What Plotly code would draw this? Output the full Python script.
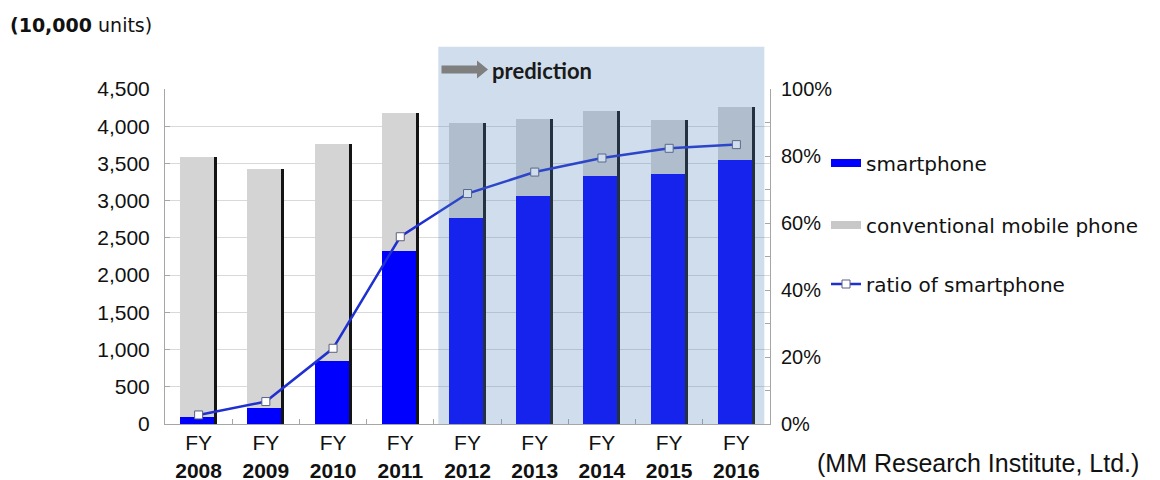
import plotly.graph_objects as go

# Fiscal years and shipment data (10,000 units)
years = ["2008", "2009", "2010", "2011", "2012", "2013", "2014", "2015", "2016"]
smartphone = [90, 220, 850, 2330, 2770, 3060, 3330, 3360, 3550]
conventional = [3490, 3210, 2910, 1850, 1280, 1040, 870, 720, 710]
ratio_pct = [2.7, 6.7, 22.6, 55.9, 68.8, 75.2, 79.4, 82.3, 83.4]
tick_text = [f"FY<br><b>{y}</b>" for y in years]

totals = [s + c for s, c in zip(smartphone, conventional)]
ratio = [r / 100 for r in ratio_pct]

# plot-area geometry in pixels (used for decorations placed in paper space)
W, H = 1160, 480
L, R, T, B = 165, 770, 89, 424


def px(x):
    return (x - L) / (R - L)


def py(y):
    return (B - y) / (B - T)


BLUE = "#0000ff"
GRAY = "#d4d4d4"
LINE = "#1f2fd0"
TXT = "#111111"

fig = go.Figure()

# smartphone (bottom part of each column)
fig.add_trace(go.Bar(
    x=years, y=smartphone, base=0, width=0.506, offset=-0.276,
    marker=dict(color=BLUE, line=dict(width=0)), showlegend=False,
))
# conventional phones stacked on top
fig.add_trace(go.Bar(
    x=years, y=conventional, base=smartphone, width=0.506, offset=-0.276,
    marker=dict(color=GRAY, line=dict(width=0)), showlegend=False,
))
# dark right-hand edge of each column
fig.add_trace(go.Bar(
    x=years, y=totals, base=0, width=0.045, offset=0.23,
    marker=dict(color="#141414", line=dict(width=0)), showlegend=False,
))
# smartphone ratio on the secondary axis
fig.add_trace(go.Scatter(
    x=years, y=ratio, yaxis="y2", mode="lines+markers",
    name="ratio of smartphone",
    line=dict(color=LINE, width=2.5),
    marker=dict(symbol="square", size=8, color="white",
                line=dict(color="#5a6080", width=1)),
    legend="legend3",
))
# legend swatches for the columns
fig.add_trace(go.Scatter(
    x=[None], y=[None], mode="lines", name="smartphone",
    line=dict(color=BLUE, width=8), legend="legend",
))
fig.add_trace(go.Scatter(
    x=[None], y=[None], mode="lines", name="conventional mobile phone",
    line=dict(color="#c8c8c8", width=8), legend="legend2",
))

legend_common = dict(
    x=px(826), xanchor="left", yanchor="middle",
    bgcolor="rgba(0,0,0,0)", borderwidth=0,
    font=dict(family="DejaVu Sans", size=20, color=TXT),
    itemwidth=30,
)

# prediction period band, drawn over the columns
shapes = [
    dict(type="rect", xref="x", yref="paper",
         x0=3.566, x1=8.415, y0=0, y1=py(46.7),
         fillcolor="rgba(80,130,185,0.27)", line=dict(width=0),
         layer="above"),
    # arrow in front of the "prediction" label
    dict(type="path", xref="paper", yref="paper",
         path=(f"M{px(441.5)},{py(65.5)} L{px(477)},{py(65.5)} "
               f"L{px(477)},{py(60.5)} L{px(488)},{py(69.5)} "
               f"L{px(477)},{py(78.5)} L{px(477)},{py(73.5)} "
               f"L{px(441.5)},{py(73.5)} Z"),
         fillcolor="#7f7f7f", line=dict(width=0), layer="above"),
]

annotations = [
    dict(text="prediction", xref="paper", yref="paper",
         x=px(490), y=py(71), xanchor="left", yanchor="middle",
         showarrow=False,
         font=dict(family="Lato", size=22, color="#1a1a1a", weight="bold")),
    dict(text="<b>(10,000</b> units)", xref="paper", yref="paper",
         x=px(8), y=py(25), xanchor="left", yanchor="middle",
         showarrow=False,
         font=dict(family="DejaVu Sans", size=19, color=TXT)),
    dict(text="(MM Research Institute, Ltd.)", xref="paper", yref="paper",
         x=px(815), y=py(463), xanchor="left", yanchor="middle",
         showarrow=False,
         font=dict(family="Liberation Sans, Arial", size=25, color=TXT)),
]

fig.update_layout(
    width=W, height=H,
    margin=dict(l=L, r=W - R, t=T, b=H - B, pad=0, autoexpand=False),
    paper_bgcolor="white", plot_bgcolor="white",
    barmode="overlay", bargap=0,
    shapes=shapes, annotations=annotations,
    legend=dict(legend_common, y=py(163)),
    legend2=dict(legend_common, y=py(225)),
    legend3=dict(legend_common, y=py(284)),
    xaxis=dict(
        type="category", range=[-0.5, 8.5], automargin=False,
        tickvals=years, ticktext=tick_text,
        tickson="boundaries", ticks="inside", ticklen=5,
        tickcolor="#a6a6a6", showline=True, linecolor="#a6a6a6",
        linewidth=1, showgrid=False,
        tickfont=dict(family="Liberation Sans, Arial", size=21, color=TXT),
    ),
    yaxis=dict(
        range=[0, 4500], dtick=500, tickformat=",", automargin=False,
        showgrid=True, gridcolor="#d9d9d9", gridwidth=1,
        showline=True, linecolor="#a6a6a6", linewidth=1,
        ticks="inside", ticklen=5, tickcolor="#a6a6a6",
        ticklabelstandoff=10, zeroline=False,
        tickfont=dict(family="Liberation Sans, Arial", size=21, color=TXT),
    ),
    yaxis2=dict(
        range=[0, 1], dtick=0.2, tickformat=".0%", automargin=False,
        overlaying="y", side="right", showgrid=False,
        showline=True, linecolor="#a6a6a6", linewidth=1,
        ticks="inside", ticklen=5, tickcolor="#a6a6a6",
        minor=dict(dtick=0.1, ticks="inside", ticklen=5, tickcolor="#a6a6a6"),
        ticklabelstandoff=6, zeroline=False,
        tickfont=dict(family="Liberation Sans, Arial", size=20, color=TXT),
    ),
)

fig.write_html("out.html")
